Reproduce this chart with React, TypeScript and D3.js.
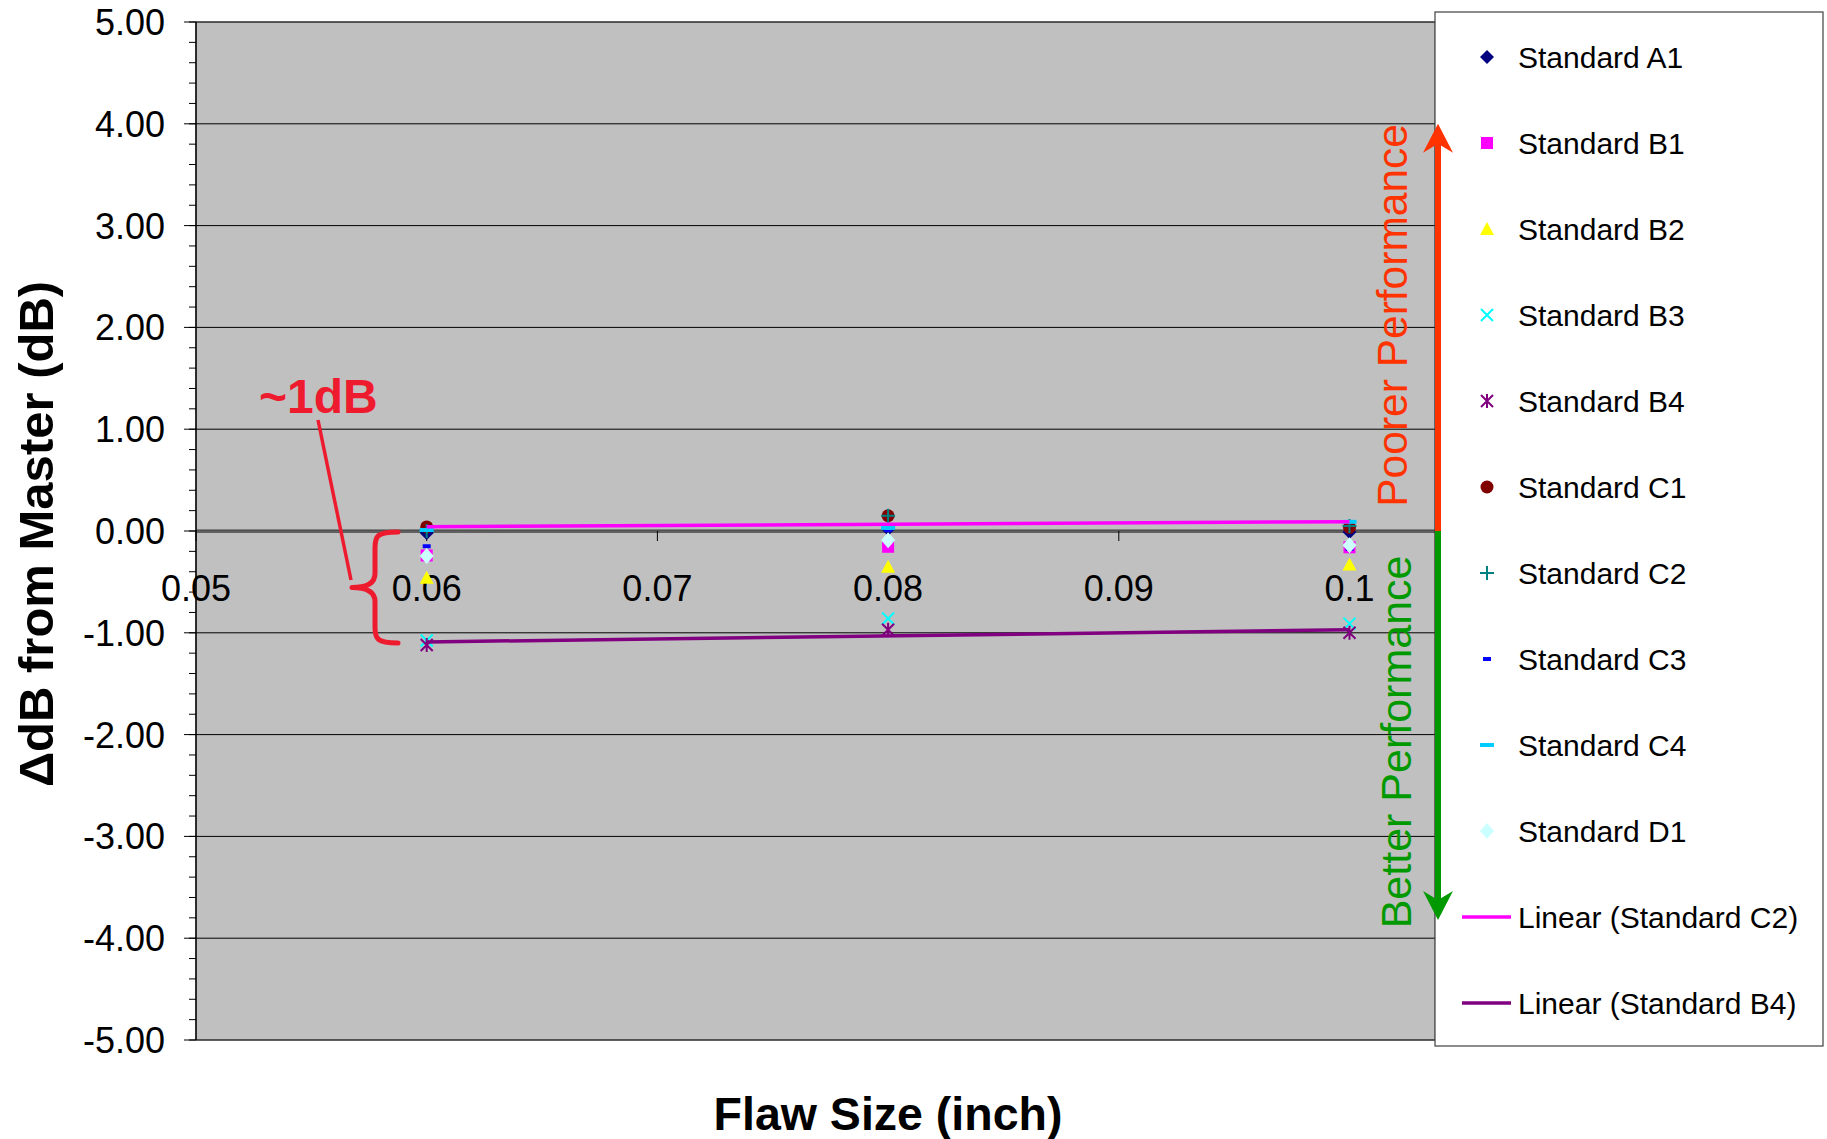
import React from "react";
import * as d3 from "d3";

// Flaw sizes measured (inch)
const flawSizes = [0.06, 0.08, 0.1];

// ΔdB from master, one array per calibration standard (at 0.06, 0.08, 0.10 inch)
const standardA1 = [-0.02, 0.02, -0.01];
const standardB1 = [-0.24, -0.155, -0.16];
const standardB2 = [-0.46, -0.35, -0.33];
const standardB3 = [-1.075, -0.86, -0.91];
const standardB4 = [-1.12, -0.97, -1.0];
const standardC1 = [0.04, 0.15, 0.035];
const standardC2 = [0.0, 0.15, 0.05];
const standardC3 = [-0.15, 0.01, -0.175];
const standardC4 = [0.01, 0.03, 0.09];
const standardD1 = [-0.245, -0.09, -0.14];

const xTicks = [0.05, 0.06, 0.07, 0.08, 0.09, 0.1];
const yTicks = [-5, -4, -3, -2, -1, 0, 1, 2, 3, 4, 5];

// Performance arrow extents (dB)
const arrowTop = 4.0;
const arrowBottom = -3.82;

type Kind = "diamond" | "square" | "triangle" | "x" | "asterisk" | "circle" | "plus" | "smalldash" | "dash" | "bigdiamond";

interface Series {
  name: string;
  values: number[];
  color: string;
  kind: Kind;
}

const series: Series[] = [
  { name: "Standard A1", values: standardA1, color: "#000080", kind: "diamond" },
  { name: "Standard B1", values: standardB1, color: "#FF00FF", kind: "square" },
  { name: "Standard B2", values: standardB2, color: "#FFFF00", kind: "triangle" },
  { name: "Standard B3", values: standardB3, color: "#00FFFF", kind: "x" },
  { name: "Standard B4", values: standardB4, color: "#800080", kind: "asterisk" },
  { name: "Standard C1", values: standardC1, color: "#800000", kind: "circle" },
  { name: "Standard C2", values: standardC2, color: "#008080", kind: "plus" },
  { name: "Standard C3", values: standardC3, color: "#0000FF", kind: "smalldash" },
  { name: "Standard C4", values: standardC4, color: "#00CCFF", kind: "dash" },
  { name: "Standard D1", values: standardD1, color: "#CCFFFF", kind: "bigdiamond" },
];

const trends = [
  { name: "Linear (Standard C2)", values: standardC2, color: "#FF00FF" },
  { name: "Linear (Standard B4)", values: standardB4, color: "#800080" },
];

const FONT = "'Liberation Sans', Arial, Helvetica, sans-serif";

function Marker({ kind, color }: { kind: Kind; color: string }) {
  switch (kind) {
    case "diamond":
      return <path d="M0,-7L7,0L0,7L-7,0Z" fill={color} />;
    case "bigdiamond":
      return <path d="M0,-8L7,0L0,8L-7,0Z" fill={color} />;
    case "square":
      return <rect x={-6} y={-6} width={12} height={12} fill={color} />;
    case "triangle":
      return <path d="M0,-7L7,6L-7,6Z" fill={color} />;
    case "circle":
      return <circle r={6.5} fill={color} />;
    case "x":
      return <path d="M-6,-6L6,6M-6,6L6,-6" stroke={color} strokeWidth={2} fill="none" />;
    case "asterisk":
      return <path d="M-6,-6L6,6M-6,6L6,-6M0,-7L0,7" stroke={color} strokeWidth={2} fill="none" />;
    case "plus":
      return <path d="M-7,0L7,0M0,-7L0,7" stroke={color} strokeWidth={2} fill="none" />;
    case "smalldash":
      return <rect x={-4} y={-2} width={8} height={4} fill={color} />;
    case "dash":
      return <rect x={-7} y={-2} width={14} height={4} fill={color} />;
  }
  return null;
}

function linearFit(xs: number[], ys: number[]) {
  const mx = d3.mean(xs)!;
  const my = d3.mean(ys)!;
  let num = 0;
  let den = 0;
  xs.forEach((x, i) => {
    num += (x - mx) * (ys[i] - my);
    den += (x - mx) * (x - mx);
  });
  const slope = num / den;
  return (x: number) => my + slope * (x - mx);
}

export default function App() {
  const W = 1827;
  const H = 1139;
  const plotLeft = 196;
  const plotRight = 1435;
  const plotTop = 22;
  const plotBottom = 1040;

  const x = d3.scaleLinear().domain([0.05, 0.1]).range([plotLeft, 1349.5]);
  const y = d3.scaleLinear().domain([-5, 5]).range([plotBottom, plotTop]);
  const y0 = y(0);

  const minorTicks = d3.range(-5, 5.0001, 0.2).map((v) => Math.round(v * 10) / 10);

  const legendX = 1435;
  const legendY = 12;
  const legendW = 388;
  const legendH = 1034;
  const rowY = (i: number) => 57 + i * 86;

  const arrowX = 1438;
  const red = "#FF3300";
  const green = "#009900";
  const calloutRed = "#EE1B2E";

  // Curly brace spanning the spread between the two trend lines at 0.06
  const bx = 375;
  const bTop = 532;
  const bBot = 643;
  const bMid = (bTop + bBot) / 2;
  const bracePath = `M${bx + 23},${bTop} C${bx + 2},${bTop} ${bx},${bTop + 4} ${bx},${bTop + 16} L${bx},${bMid - 14} C${bx},${bMid - 4} ${bx - 8},${bMid} ${bx - 23},${bMid} C${bx - 8},${bMid} ${bx},${bMid + 4} ${bx},${bMid + 14} L${bx},${bBot - 16} C${bx},${bBot - 4} ${bx + 2},${bBot} ${bx + 23},${bBot}`;

  return (
    <svg
      width={W}
      height={H}
      style={{ position: "fixed", left: 0, top: 0, background: "#fff" }}
      fontFamily={FONT}
    >
      {/* plot area */}
      <rect x={plotLeft} y={plotTop} width={plotRight - plotLeft} height={plotBottom - plotTop} fill="#C0C0C0" stroke="#808080" strokeWidth={1} />

      {/* horizontal gridlines */}
      {yTicks.map((t) => (
        <line key={"g" + t} x1={plotLeft} x2={plotRight} y1={y(t)} y2={y(t)} stroke="#000" strokeWidth={1} />
      ))}

      {/* zero axis */}
      <line x1={plotLeft} x2={plotRight} y1={y0 - 1} y2={y0 - 1} stroke="#404040" strokeWidth={1} />
      <line x1={plotLeft} x2={plotRight} y1={y0 + 1.5} y2={y0 + 1.5} stroke="#606060" strokeWidth={1} />
      {xTicks.map((t) => (
        <line key={"xt" + t} x1={x(t)} x2={x(t)} y1={y0} y2={y0 + 10} stroke="#000" strokeWidth={1} />
      ))}
      {xTicks.map((t) => (
        <text key={"xl" + t} x={x(t)} y={601} fontSize={36} textAnchor="middle" fill="#000">
          {String(+t.toFixed(2))}
        </text>
      ))}

      {/* y axis */}
      <line x1={plotLeft} x2={plotLeft} y1={plotTop} y2={plotBottom} stroke="#000" strokeWidth={1.5} />
      {minorTicks.map((t) => (
        <line key={"m" + t} x1={plotLeft - 7} x2={plotLeft} y1={y(t)} y2={y(t)} stroke="#000" strokeWidth={1} />
      ))}
      {yTicks.map((t) => (
        <line key={"M" + t} x1={plotLeft - 12} x2={plotLeft} y1={y(t)} y2={y(t)} stroke="#000" strokeWidth={1} />
      ))}
      {yTicks.map((t) => (
        <text key={"yl" + t} x={165} y={y(t) + 13} fontSize={36} textAnchor="end" fill="#000">
          {t.toFixed(2)}
        </text>
      ))}

      {/* data markers */}
      {series.map((s) => (
        <g key={s.name}>
          {s.values.map((v, i) => (
            <g key={i} transform={`translate(${x(flawSizes[i])},${y(v)})`}>
              <Marker kind={s.kind} color={s.color} />
            </g>
          ))}
        </g>
      ))}

      {/* linear trend lines */}
      {trends.map((t) => {
        const f = linearFit(flawSizes, t.values);
        const x1 = flawSizes[0];
        const x2 = flawSizes[flawSizes.length - 1];
        return (
          <line key={t.name} x1={x(x1)} x2={x(x2)} y1={y(f(x1))} y2={y(f(x2))} stroke={t.color} strokeWidth={3.5} />
        );
      })}

      {/* ~1dB callout */}
      <path d={bracePath} fill="none" stroke={calloutRed} strokeWidth={5} strokeLinecap="round" strokeLinejoin="round" />
      <line x1={318} y1={420} x2={351} y2={580} stroke={calloutRed} strokeWidth={3.5} />
      <text x={259} y={413} fontSize={48} fontWeight="bold" fill={calloutRed}>~1dB</text>

      {/* axis titles */}
      <text transform={`translate(53,534) rotate(-90)`} fontSize={49} fontWeight="bold" textAnchor="middle" fill="#000">
        ΔdB from Master (dB)
      </text>
      <text x={888} y={1130} fontSize={46.5} fontWeight="bold" textAnchor="middle" fill="#000">
        Flaw Size (inch)
      </text>

      {/* legend */}
      <rect x={legendX} y={legendY} width={legendW} height={legendH} fill="#fff" stroke="#404040" strokeWidth={1.2} />
      {series.map((s, i) => (
        <g key={"lg" + s.name}>
          <g transform={`translate(1487,${rowY(i)})`}>
            <Marker kind={s.kind} color={s.color} />
          </g>
          <text x={1518} y={rowY(i) + 11} fontSize={30} fill="#000">{s.name}</text>
        </g>
      ))}
      {trends.map((t, j) => {
        const ry = rowY(series.length + j);
        return (
          <g key={"lt" + t.name}>
            <line x1={1462} x2={1511} y1={ry} y2={ry} stroke={t.color} strokeWidth={3.5} />
            <text x={1518} y={ry + 11} fontSize={30} fill="#000">{t.name}</text>
          </g>
        );
      })}

      {/* performance arrows */}
      <line x1={arrowX} x2={arrowX} y1={y0} y2={y(arrowTop) + 18} stroke={red} strokeWidth={6} />
      <path d={`M${arrowX},${y(arrowTop)} L${arrowX + 15},${y(arrowTop) + 29} L${arrowX},${y(arrowTop) + 20} L${arrowX - 15},${y(arrowTop) + 29} Z`} fill={red} />
      <line x1={arrowX} x2={arrowX} y1={y0} y2={y(arrowBottom) - 18} stroke={green} strokeWidth={6} />
      <path d={`M${arrowX},${y(arrowBottom)} L${arrowX + 15},${y(arrowBottom) - 29} L${arrowX},${y(arrowBottom) - 20} L${arrowX - 15},${y(arrowBottom) - 29} Z`} fill={green} />

      <text transform={`translate(1407,${(y(arrowTop) + y0 - 24) / 2}) rotate(-90)`} fontSize={42.5} textAnchor="middle" fill={red}>
        Poorer Performance
      </text>
      <text transform={`translate(1411,${(y0 + 33 + y(arrowBottom)) / 2}) rotate(-90)`} fontSize={43} textAnchor="middle" fill={green}>
        Better Performance
      </text>
    </svg>
  );
}
